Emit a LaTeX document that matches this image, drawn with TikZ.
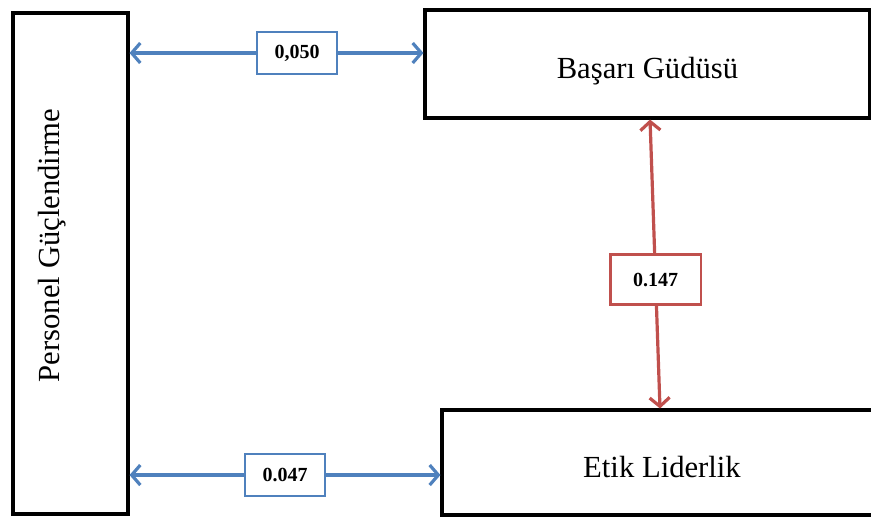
\documentclass[tikz,border=0pt]{standalone}
\usepackage{fontspec}
\setmainfont{Liberation Serif}
\usetikzlibrary{arrows.meta,calc}

\definecolor{linkblue}{RGB}{79,129,189}
\definecolor{linkred}{RGB}{192,80,77}

\begin{document}
\begin{tikzpicture}[x=0.75pt,y=-0.75pt,
        box/.style={rectangle, draw, line width=2.3pt, inner sep=0pt},
        bigtext/.style={font=\fontsize{23}{27}\selectfont},
        boxtext/.style={bigtext, text height=27pt, text depth=5pt},
        bluelink/.style={draw=linkblue, line width=2.4pt, {Straight Barb[length=6.5pt,width=15pt]}-{Straight Barb[length=6.5pt,width=15pt]}},
        redlink/.style={draw=linkred, line width=2.4pt, {Straight Barb[length=6.5pt,width=15pt]}-{Straight Barb[length=6.5pt,width=15pt]}},
        bluelabel/.style={rectangle, draw=linkblue, line width=2.1pt, fill=white, minimum width=60pt, minimum height=31.5pt, font=\bfseries\fontsize{15}{18}\selectfont},
        redlabel/.style={rectangle, draw=linkred, line width=2.1pt, fill=white, minimum width=68pt, minimum height=37.5pt, font=\bfseries\fontsize{15}{18}\selectfont}]
        \useasboundingbox (0,0) rectangle (871,518);
        % boxes
        \node at (70.5,263.5) [box, minimum width=86.25pt, minimum height=375.75pt] (pg) {};
        \node at ($(pg.center)+(-18,-18)$) [rotate=90, bigtext] (pgtext) {Personel Güçlendirme};
        \node at (647.5,64) [box, boxtext, minimum width=333.75pt, minimum height=81pt] (bg) {Başarı Güdüsü};
        \node at (662,462.5) [box, boxtext, minimum width=330pt, minimum height=78.75pt] (el) {Etik Liderlik};
        % links
        \coordinate (t1) at ([yshift=8.25pt]bg.west);
        \coordinate (t2) at ([yshift=-9.4pt]el.west);
        \draw[bluelink] (t1 -| pg.east) -- node[bluelabel, pos=0.57]{0,050} (t1);
        \draw[bluelink] (t2 -| pg.east) -- node[bluelabel, pos=0.5]{0.047} (t2);
        \draw[redlink] ([xshift=1.9pt]bg.south) -- node[redlabel, pos=0.555]{0.147} ([xshift=-1.5pt]el.north);
\end{tikzpicture}
\end{document}
